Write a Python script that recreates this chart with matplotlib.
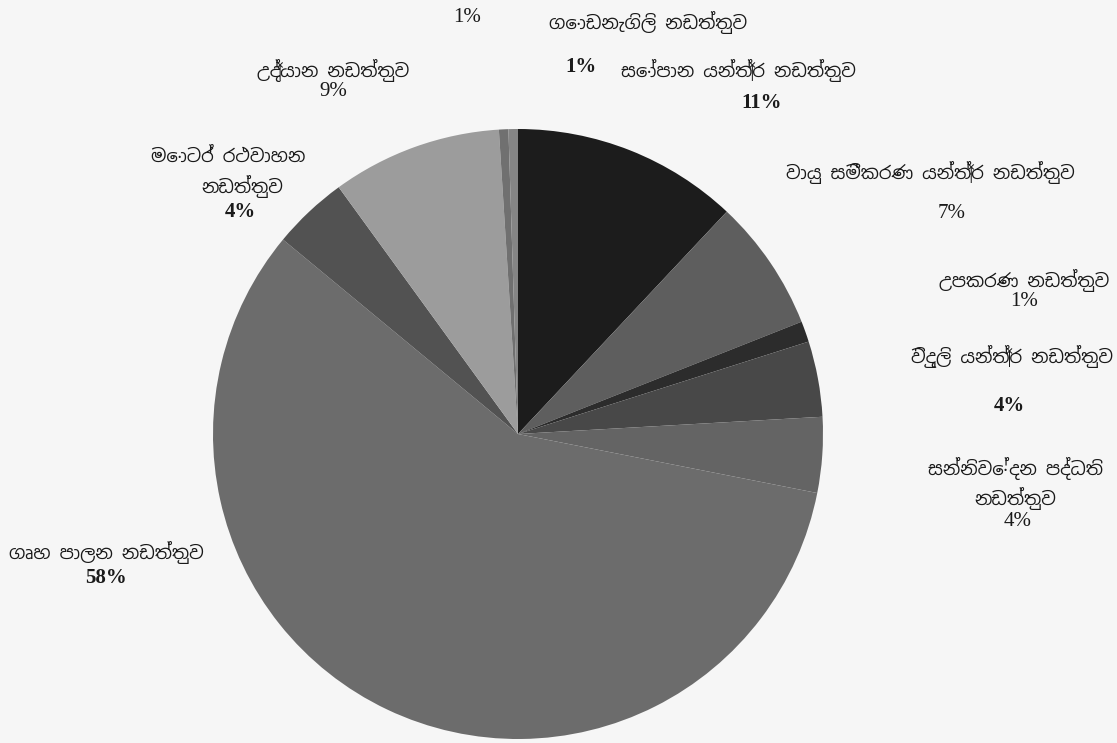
import numpy as np
import matplotlib

matplotlib.use('Agg')
import matplotlib.pyplot as plt

# slices, clockwise from 12 o'clock
names = ['සෝපාන යන්ත්‍ර නඩත්තුව', 'වායු සමීකරණ යන්ත්‍ර නඩත්තුව', 'උපකරණ නඩත්තුව',
         'විදුලි යන්ත්‍ර නඩත්තුව', 'සන්නිවේදන පද්ධති නඩත්තුව', 'ගෘහ පාලන නඩත්තුව',
         'මොටර් රථවාහන නඩත්තුව', 'උද්‍යාන නඩත්තුව', '', 'ගොඩනැගිලි නඩත්තුව']
shares = [12.0, 7.0, 1.1, 4.0, 4.0, 57.9, 4.0, 9.0, 0.5, 0.5]
pct_labels = ['11%', '7%', '1%', '4%', '4%', '58%', '4%', '9%', '1%', '1%']
colors = ['#1c1c1c', '#5e5e5e', '#2c2c2c', '#484848', '#646464',
          '#6c6c6c', '#525252', '#9c9c9c', '#707070', '#858585']

sinhala = ['Noto Sans Sinhala UI', 'Noto Serif Sinhala', 'FreeSerif', 'DejaVu Sans']
serif = ['Liberation Serif', 'DejaVu Serif']

W, H = 1117, 743
fig = plt.figure(figsize=(W / 100, H / 100), dpi=100, facecolor='#f6f6f6')
ax = fig.add_axes([0, 0, 1, 1])
ax.set_xlim(0, W)
ax.set_ylim(0, H)
ax.set_aspect('equal')
ax.axis('off')

ax.pie(shares, colors=colors, startangle=90, counterclock=False,
       center=(518, H - 434), radius=305, frame=True,
       wedgeprops=dict(linewidth=0))
ax.set_xlim(0, W)
ax.set_ylim(0, H)
ax.axis('off')


def txt(x, y, s, font, size=13, bold=False):
    ax.text(x, H - y, s, ha='center', va='center', fontsize=size,
            family=font, fontweight='bold' if bold else 'normal', color='#1a1a1a')


# label name lines (pixel positions from the top-left)
txt(648, 22, names[9], sinhala)
txt(738, 70, names[0], sinhala)
txt(930, 172, names[1], sinhala)
txt(1024, 280, names[2], sinhala)
txt(1012, 357, names[3], sinhala)
txt(1015, 469, 'සන්නිවේදන පද්ධති', sinhala)
txt(1015, 498, 'නඩත්තුව', sinhala)
txt(106, 552, names[5], sinhala)
txt(228, 157, 'මොටර් රථවාහන', sinhala)
txt(242, 187, 'නඩත්තුව', sinhala)
txt(333, 70, names[7], sinhala)

# percentage lines
txt(762, 103, pct_labels[0], serif, 15, True)
txt(952, 214, pct_labels[1], serif, 15)
txt(1024, 302, pct_labels[2], serif, 15)
txt(1009, 406, pct_labels[3], serif, 15, True)
txt(1018, 521, pct_labels[4], serif, 15)
txt(106, 578, pct_labels[5], serif, 15, True)
txt(240, 212, pct_labels[6], serif, 15, True)
txt(333, 91, pct_labels[7], serif, 15)
txt(467, 18, pct_labels[8], serif, 15)
txt(581, 67, pct_labels[9], serif, 15, True)

fig.savefig('out.png', dpi=100, facecolor=fig.get_facecolor())
